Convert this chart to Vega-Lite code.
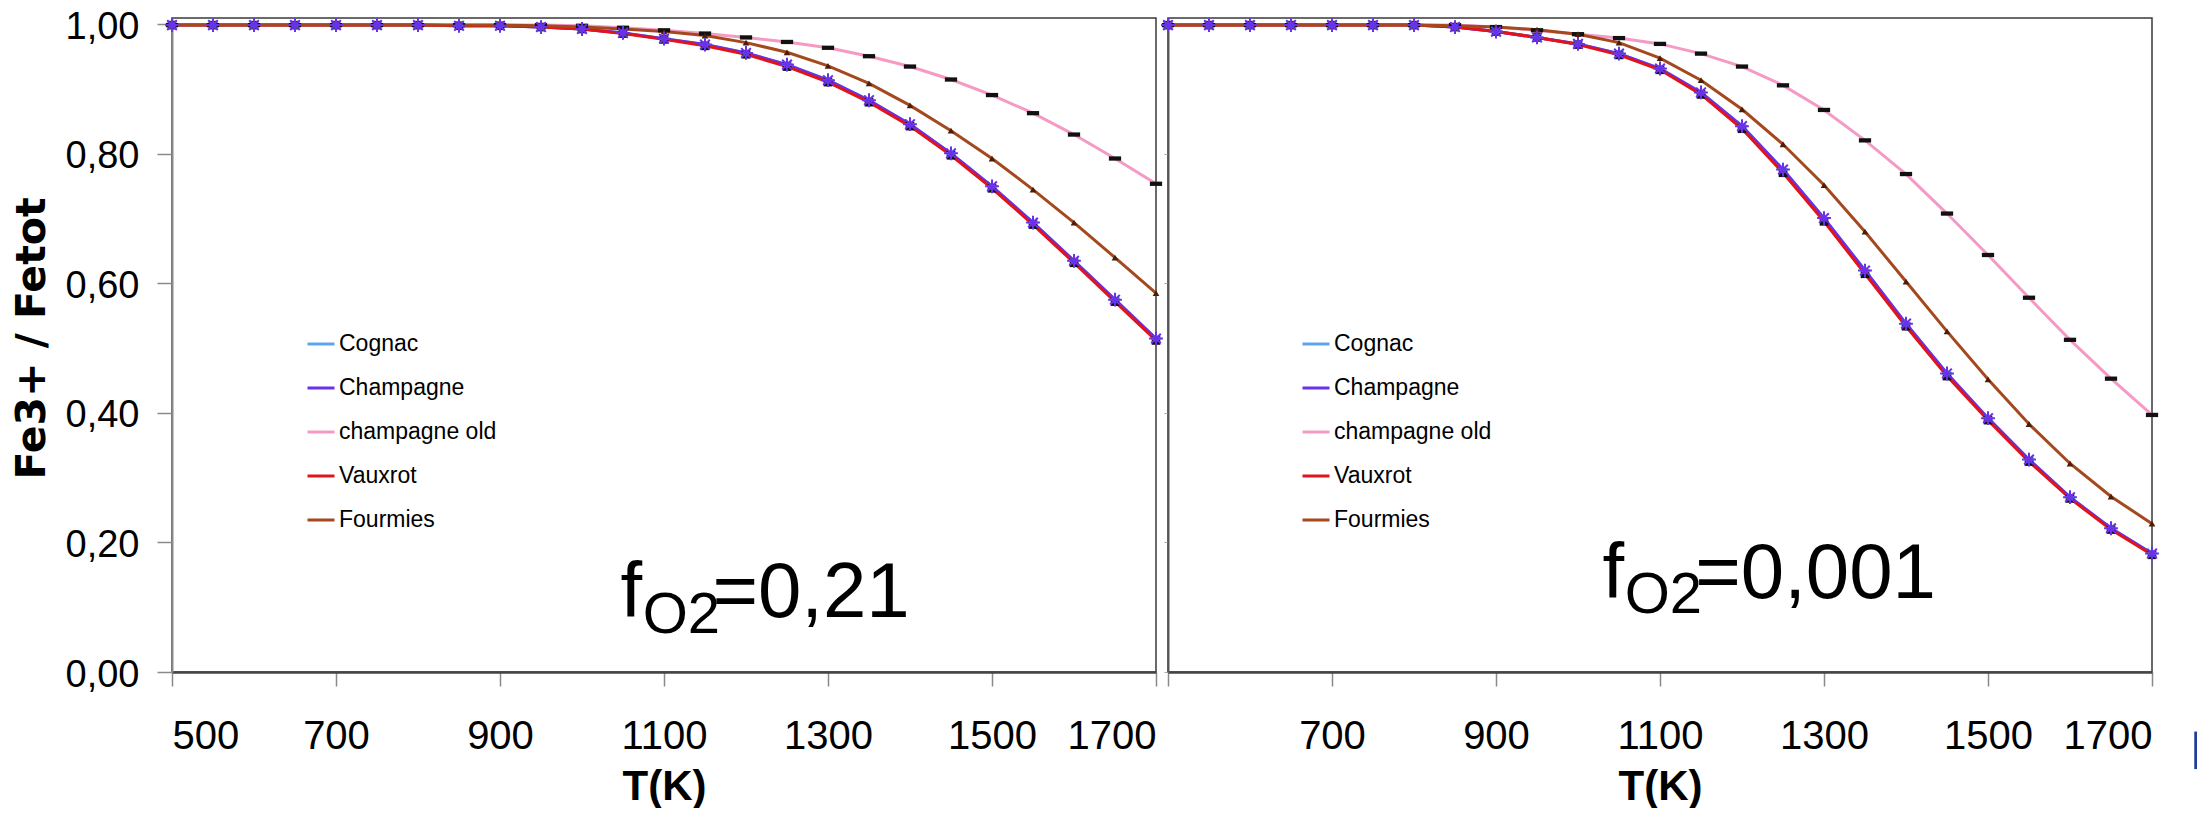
{
"$schema": "https://vega.github.io/schema/vega-lite/v6.json",
"background": "white",
"padding": {"left": 10, "top": 7, "right": 2, "bottom": 0},
"bounds": "flush",
"spacing": 12,
"datasets": {
"d": [
{"p":"a","s":"Cognac","T":500,"v":0.999},{"p":"a","s":"Cognac","T":550,"v":0.999},{"p":"a","s":"Cognac","T":600,"v":0.999},{"p":"a","s":"Cognac","T":650,"v":0.999},{"p":"a","s":"Cognac","T":700,"v":0.999},{"p":"a","s":"Cognac","T":750,"v":0.999},{"p":"a","s":"Cognac","T":800,"v":0.999},{"p":"a","s":"Cognac","T":850,"v":0.998},{"p":"a","s":"Cognac","T":900,"v":0.998},{"p":"a","s":"Cognac","T":950,"v":0.996},{"p":"a","s":"Cognac","T":1000,"v":0.993},{"p":"a","s":"Cognac","T":1050,"v":0.987},{"p":"a","s":"Cognac","T":1100,"v":0.978},{"p":"a","s":"Cognac","T":1150,"v":0.969},{"p":"a","s":"Cognac","T":1200,"v":0.956},{"p":"a","s":"Cognac","T":1250,"v":0.938},{"p":"a","s":"Cognac","T":1300,"v":0.914},{"p":"a","s":"Cognac","T":1350,"v":0.883},{"p":"a","s":"Cognac","T":1400,"v":0.846},{"p":"a","s":"Cognac","T":1450,"v":0.801},{"p":"a","s":"Cognac","T":1500,"v":0.750},{"p":"a","s":"Cognac","T":1550,"v":0.694},{"p":"a","s":"Cognac","T":1600,"v":0.635},{"p":"a","s":"Cognac","T":1650,"v":0.575},{"p":"a","s":"Cognac","T":1700,"v":0.515},
{"p":"a","s":"Champagne","T":500,"v":0.999},{"p":"a","s":"Champagne","T":550,"v":0.999},{"p":"a","s":"Champagne","T":600,"v":0.999},{"p":"a","s":"Champagne","T":650,"v":0.999},{"p":"a","s":"Champagne","T":700,"v":0.999},{"p":"a","s":"Champagne","T":750,"v":0.999},{"p":"a","s":"Champagne","T":800,"v":0.999},{"p":"a","s":"Champagne","T":850,"v":0.998},{"p":"a","s":"Champagne","T":900,"v":0.998},{"p":"a","s":"Champagne","T":950,"v":0.996},{"p":"a","s":"Champagne","T":1000,"v":0.993},{"p":"a","s":"Champagne","T":1050,"v":0.987},{"p":"a","s":"Champagne","T":1100,"v":0.978},{"p":"a","s":"Champagne","T":1150,"v":0.969},{"p":"a","s":"Champagne","T":1200,"v":0.956},{"p":"a","s":"Champagne","T":1250,"v":0.938},{"p":"a","s":"Champagne","T":1300,"v":0.914},{"p":"a","s":"Champagne","T":1350,"v":0.883},{"p":"a","s":"Champagne","T":1400,"v":0.846},{"p":"a","s":"Champagne","T":1450,"v":0.801},{"p":"a","s":"Champagne","T":1500,"v":0.750},{"p":"a","s":"Champagne","T":1550,"v":0.694},{"p":"a","s":"Champagne","T":1600,"v":0.635},{"p":"a","s":"Champagne","T":1650,"v":0.575},{"p":"a","s":"Champagne","T":1700,"v":0.515},
{"p":"a","s":"champagne old","T":500,"v":0.999},{"p":"a","s":"champagne old","T":550,"v":0.999},{"p":"a","s":"champagne old","T":600,"v":0.999},{"p":"a","s":"champagne old","T":650,"v":0.999},{"p":"a","s":"champagne old","T":700,"v":0.999},{"p":"a","s":"champagne old","T":750,"v":0.999},{"p":"a","s":"champagne old","T":800,"v":0.999},{"p":"a","s":"champagne old","T":850,"v":0.999},{"p":"a","s":"champagne old","T":900,"v":0.999},{"p":"a","s":"champagne old","T":950,"v":0.999},{"p":"a","s":"champagne old","T":1000,"v":0.998},{"p":"a","s":"champagne old","T":1050,"v":0.995},{"p":"a","s":"champagne old","T":1100,"v":0.991},{"p":"a","s":"champagne old","T":1150,"v":0.986},{"p":"a","s":"champagne old","T":1200,"v":0.980},{"p":"a","s":"champagne old","T":1250,"v":0.973},{"p":"a","s":"champagne old","T":1300,"v":0.964},{"p":"a","s":"champagne old","T":1350,"v":0.951},{"p":"a","s":"champagne old","T":1400,"v":0.935},{"p":"a","s":"champagne old","T":1450,"v":0.915},{"p":"a","s":"champagne old","T":1500,"v":0.891},{"p":"a","s":"champagne old","T":1550,"v":0.863},{"p":"a","s":"champagne old","T":1600,"v":0.830},{"p":"a","s":"champagne old","T":1650,"v":0.793},{"p":"a","s":"champagne old","T":1700,"v":0.754},
{"p":"a","s":"Vauxrot","T":500,"v":0.999},{"p":"a","s":"Vauxrot","T":550,"v":0.999},{"p":"a","s":"Vauxrot","T":600,"v":0.999},{"p":"a","s":"Vauxrot","T":650,"v":0.999},{"p":"a","s":"Vauxrot","T":700,"v":0.999},{"p":"a","s":"Vauxrot","T":750,"v":0.999},{"p":"a","s":"Vauxrot","T":800,"v":0.999},{"p":"a","s":"Vauxrot","T":850,"v":0.998},{"p":"a","s":"Vauxrot","T":900,"v":0.998},{"p":"a","s":"Vauxrot","T":950,"v":0.996},{"p":"a","s":"Vauxrot","T":1000,"v":0.993},{"p":"a","s":"Vauxrot","T":1050,"v":0.986},{"p":"a","s":"Vauxrot","T":1100,"v":0.977},{"p":"a","s":"Vauxrot","T":1150,"v":0.967},{"p":"a","s":"Vauxrot","T":1200,"v":0.954},{"p":"a","s":"Vauxrot","T":1250,"v":0.935},{"p":"a","s":"Vauxrot","T":1300,"v":0.911},{"p":"a","s":"Vauxrot","T":1350,"v":0.880},{"p":"a","s":"Vauxrot","T":1400,"v":0.843},{"p":"a","s":"Vauxrot","T":1450,"v":0.798},{"p":"a","s":"Vauxrot","T":1500,"v":0.747},{"p":"a","s":"Vauxrot","T":1550,"v":0.691},{"p":"a","s":"Vauxrot","T":1600,"v":0.632},{"p":"a","s":"Vauxrot","T":1650,"v":0.572},{"p":"a","s":"Vauxrot","T":1700,"v":0.512},
{"p":"a","s":"Fourmies","T":500,"v":0.999},{"p":"a","s":"Fourmies","T":550,"v":0.999},{"p":"a","s":"Fourmies","T":600,"v":0.999},{"p":"a","s":"Fourmies","T":650,"v":0.999},{"p":"a","s":"Fourmies","T":700,"v":0.999},{"p":"a","s":"Fourmies","T":750,"v":0.999},{"p":"a","s":"Fourmies","T":800,"v":0.999},{"p":"a","s":"Fourmies","T":850,"v":0.999},{"p":"a","s":"Fourmies","T":900,"v":0.999},{"p":"a","s":"Fourmies","T":950,"v":0.998},{"p":"a","s":"Fourmies","T":1000,"v":0.996},{"p":"a","s":"Fourmies","T":1050,"v":0.993},{"p":"a","s":"Fourmies","T":1100,"v":0.989},{"p":"a","s":"Fourmies","T":1150,"v":0.983},{"p":"a","s":"Fourmies","T":1200,"v":0.972},{"p":"a","s":"Fourmies","T":1250,"v":0.957},{"p":"a","s":"Fourmies","T":1300,"v":0.936},{"p":"a","s":"Fourmies","T":1350,"v":0.909},{"p":"a","s":"Fourmies","T":1400,"v":0.875},{"p":"a","s":"Fourmies","T":1450,"v":0.836},{"p":"a","s":"Fourmies","T":1500,"v":0.793},{"p":"a","s":"Fourmies","T":1550,"v":0.745},{"p":"a","s":"Fourmies","T":1600,"v":0.694},{"p":"a","s":"Fourmies","T":1650,"v":0.640},{"p":"a","s":"Fourmies","T":1700,"v":0.585},
{"p":"b","s":"Cognac","T":500,"v":0.999},{"p":"b","s":"Cognac","T":550,"v":0.999},{"p":"b","s":"Cognac","T":600,"v":0.999},{"p":"b","s":"Cognac","T":650,"v":0.999},{"p":"b","s":"Cognac","T":700,"v":0.999},{"p":"b","s":"Cognac","T":750,"v":0.999},{"p":"b","s":"Cognac","T":800,"v":0.999},{"p":"b","s":"Cognac","T":850,"v":0.996},{"p":"b","s":"Cognac","T":900,"v":0.989},{"p":"b","s":"Cognac","T":950,"v":0.980},{"p":"b","s":"Cognac","T":1000,"v":0.970},{"p":"b","s":"Cognac","T":1050,"v":0.955},{"p":"b","s":"Cognac","T":1100,"v":0.932},{"p":"b","s":"Cognac","T":1150,"v":0.895},{"p":"b","s":"Cognac","T":1200,"v":0.843},{"p":"b","s":"Cognac","T":1250,"v":0.776},{"p":"b","s":"Cognac","T":1300,"v":0.701},{"p":"b","s":"Cognac","T":1350,"v":0.620},{"p":"b","s":"Cognac","T":1400,"v":0.538},{"p":"b","s":"Cognac","T":1450,"v":0.461},{"p":"b","s":"Cognac","T":1500,"v":0.392},{"p":"b","s":"Cognac","T":1550,"v":0.328},{"p":"b","s":"Cognac","T":1600,"v":0.270},{"p":"b","s":"Cognac","T":1650,"v":0.222},{"p":"b","s":"Cognac","T":1700,"v":0.183},
{"p":"b","s":"Champagne","T":500,"v":0.999},{"p":"b","s":"Champagne","T":550,"v":0.999},{"p":"b","s":"Champagne","T":600,"v":0.999},{"p":"b","s":"Champagne","T":650,"v":0.999},{"p":"b","s":"Champagne","T":700,"v":0.999},{"p":"b","s":"Champagne","T":750,"v":0.999},{"p":"b","s":"Champagne","T":800,"v":0.999},{"p":"b","s":"Champagne","T":850,"v":0.996},{"p":"b","s":"Champagne","T":900,"v":0.989},{"p":"b","s":"Champagne","T":950,"v":0.980},{"p":"b","s":"Champagne","T":1000,"v":0.970},{"p":"b","s":"Champagne","T":1050,"v":0.955},{"p":"b","s":"Champagne","T":1100,"v":0.932},{"p":"b","s":"Champagne","T":1150,"v":0.895},{"p":"b","s":"Champagne","T":1200,"v":0.843},{"p":"b","s":"Champagne","T":1250,"v":0.776},{"p":"b","s":"Champagne","T":1300,"v":0.701},{"p":"b","s":"Champagne","T":1350,"v":0.620},{"p":"b","s":"Champagne","T":1400,"v":0.538},{"p":"b","s":"Champagne","T":1450,"v":0.461},{"p":"b","s":"Champagne","T":1500,"v":0.392},{"p":"b","s":"Champagne","T":1550,"v":0.328},{"p":"b","s":"Champagne","T":1600,"v":0.270},{"p":"b","s":"Champagne","T":1650,"v":0.222},{"p":"b","s":"Champagne","T":1700,"v":0.183},
{"p":"b","s":"champagne old","T":500,"v":0.999},{"p":"b","s":"champagne old","T":550,"v":0.999},{"p":"b","s":"champagne old","T":600,"v":0.999},{"p":"b","s":"champagne old","T":650,"v":0.999},{"p":"b","s":"champagne old","T":700,"v":0.999},{"p":"b","s":"champagne old","T":750,"v":0.999},{"p":"b","s":"champagne old","T":800,"v":0.999},{"p":"b","s":"champagne old","T":850,"v":0.999},{"p":"b","s":"champagne old","T":900,"v":0.996},{"p":"b","s":"champagne old","T":950,"v":0.991},{"p":"b","s":"champagne old","T":1000,"v":0.985},{"p":"b","s":"champagne old","T":1050,"v":0.979},{"p":"b","s":"champagne old","T":1100,"v":0.970},{"p":"b","s":"champagne old","T":1150,"v":0.955},{"p":"b","s":"champagne old","T":1200,"v":0.935},{"p":"b","s":"champagne old","T":1250,"v":0.906},{"p":"b","s":"champagne old","T":1300,"v":0.868},{"p":"b","s":"champagne old","T":1350,"v":0.821},{"p":"b","s":"champagne old","T":1400,"v":0.769},{"p":"b","s":"champagne old","T":1450,"v":0.708},{"p":"b","s":"champagne old","T":1500,"v":0.644},{"p":"b","s":"champagne old","T":1550,"v":0.578},{"p":"b","s":"champagne old","T":1600,"v":0.513},{"p":"b","s":"champagne old","T":1650,"v":0.453},{"p":"b","s":"champagne old","T":1700,"v":0.397},
{"p":"b","s":"Vauxrot","T":500,"v":0.999},{"p":"b","s":"Vauxrot","T":550,"v":0.999},{"p":"b","s":"Vauxrot","T":600,"v":0.999},{"p":"b","s":"Vauxrot","T":650,"v":0.999},{"p":"b","s":"Vauxrot","T":700,"v":0.999},{"p":"b","s":"Vauxrot","T":750,"v":0.999},{"p":"b","s":"Vauxrot","T":800,"v":0.999},{"p":"b","s":"Vauxrot","T":850,"v":0.996},{"p":"b","s":"Vauxrot","T":900,"v":0.989},{"p":"b","s":"Vauxrot","T":950,"v":0.980},{"p":"b","s":"Vauxrot","T":1000,"v":0.969},{"p":"b","s":"Vauxrot","T":1050,"v":0.953},{"p":"b","s":"Vauxrot","T":1100,"v":0.930},{"p":"b","s":"Vauxrot","T":1150,"v":0.892},{"p":"b","s":"Vauxrot","T":1200,"v":0.839},{"p":"b","s":"Vauxrot","T":1250,"v":0.771},{"p":"b","s":"Vauxrot","T":1300,"v":0.696},{"p":"b","s":"Vauxrot","T":1350,"v":0.615},{"p":"b","s":"Vauxrot","T":1400,"v":0.534},{"p":"b","s":"Vauxrot","T":1450,"v":0.457},{"p":"b","s":"Vauxrot","T":1500,"v":0.389},{"p":"b","s":"Vauxrot","T":1550,"v":0.325},{"p":"b","s":"Vauxrot","T":1600,"v":0.268},{"p":"b","s":"Vauxrot","T":1650,"v":0.220},{"p":"b","s":"Vauxrot","T":1700,"v":0.181},
{"p":"b","s":"Fourmies","T":500,"v":0.999},{"p":"b","s":"Fourmies","T":550,"v":0.999},{"p":"b","s":"Fourmies","T":600,"v":0.999},{"p":"b","s":"Fourmies","T":650,"v":0.999},{"p":"b","s":"Fourmies","T":700,"v":0.999},{"p":"b","s":"Fourmies","T":750,"v":0.999},{"p":"b","s":"Fourmies","T":800,"v":0.999},{"p":"b","s":"Fourmies","T":850,"v":0.998},{"p":"b","s":"Fourmies","T":900,"v":0.996},{"p":"b","s":"Fourmies","T":950,"v":0.992},{"p":"b","s":"Fourmies","T":1000,"v":0.985},{"p":"b","s":"Fourmies","T":1050,"v":0.972},{"p":"b","s":"Fourmies","T":1100,"v":0.948},{"p":"b","s":"Fourmies","T":1150,"v":0.914},{"p":"b","s":"Fourmies","T":1200,"v":0.869},{"p":"b","s":"Fourmies","T":1250,"v":0.815},{"p":"b","s":"Fourmies","T":1300,"v":0.752},{"p":"b","s":"Fourmies","T":1350,"v":0.680},{"p":"b","s":"Fourmies","T":1400,"v":0.603},{"p":"b","s":"Fourmies","T":1450,"v":0.526},{"p":"b","s":"Fourmies","T":1500,"v":0.452},{"p":"b","s":"Fourmies","T":1550,"v":0.383},{"p":"b","s":"Fourmies","T":1600,"v":0.322},{"p":"b","s":"Fourmies","T":1650,"v":0.271},{"p":"b","s":"Fourmies","T":1700,"v":0.229}
]
},
"config": {
"view": {"stroke": "#3a3a3a", "strokeWidth": 1.5},
"axis": {"grid": false, "labelColor": "#000", "titleColor": "#000"}
},
"resolve": {
"scale": {"x": "independent", "y": "independent", "color": "independent", "strokeWidth": "independent"},
"legend": {"color": "independent"}
},
"hconcat": [
{
"width": 984, "height": 654,
"layer": [
{
"data": {"name": "d"},
"transform": [{"filter": "datum.p == 'a'"}],
"mark": {"type": "line"},
"encoding": {
"x": {"field": "T", "type": "quantitative", "scale": {"domain": [500, 1700], "nice": false, "zero": false},
 "axis": {"values": [500, 700, 900, 1100, 1300, 1500, 1700], "format": "d", "labelFont": "Liberation Sans", "labelFontSize": 40, "labelPadding": 30, "tickSize": 14, "tickColor": "#8a8a8a", "tickWidth": 1.5, "domainColor": "#454545", "domainWidth": 2.5, "title": "T(K)", "titleFont": "Liberation Sans", "titleFontWeight": "bold", "titleFontSize": 42, "titlePadding": 10}},
"y": {"field": "v", "type": "quantitative", "scale": {"domain": [0, 1.01], "nice": false, "zero": true},
 "axis": {"values": [0, 0.2, 0.4, 0.6, 0.8, 1.0], "labelExpr": "replace(format(datum.value, '.2f'), '.', ',')", "labelFont": "Liberation Sans", "labelFontSize": 38, "labelPadding": 18, "labelOffset": 3, "tickSize": 15, "tickColor": "#8a8a8a", "tickWidth": 1.5, "domainColor": "#8a8a8a", "domainWidth": 2, "title": "Fe3+ / Fetot", "titleFont": "DejaVu Sans", "titleFontWeight": "bold", "titleFontSize": 41, "titleAngle": 270, "titleBaseline": "bottom", "titleAlign": "center", "titleX": -119, "titleY": 320}},
"color": {"field": "s", "type": "nominal", "scale": {"domain": ["Cognac", "Champagne", "champagne old", "Vauxrot", "Fourmies"], "range": ["#5ea6ec", "#6a30ea", "#f49ac4", "#e0141a", "#a4491e"]},
 "legend": {"title": null, "orient": "none", "legendX": 134, "legendY": 311, "padding": 0, "labelFont": "Liberation Sans", "labelFontSize": 23, "labelColor": "#000", "labelLimit": 400, "rowPadding": 17, "symbolType": "stroke", "symbolSize": 729, "symbolStrokeWidth": 3.5, "labelOffset": 3}},
"strokeWidth": {"field": "s", "type": "nominal", "scale": {"domain": ["Cognac", "Champagne", "champagne old", "Vauxrot", "Fourmies"], "range": [3, 3, 4, 4.5, 3]}, "legend": null}
}
},
{
"data": {"name": "d"},
"transform": [{"filter": "datum.p == 'a' && datum.s == 'champagne old'"}],
"mark": {"type": "point", "filled": true, "opacity": 1, "color": "#111111", "size": 150, "shape": "M-1,-0.35H1V0.35H-1Z"},
"encoding": {"x": {"field": "T", "type": "quantitative"}, "y": {"field": "v", "type": "quantitative"}}
},
{
"data": {"name": "d"},
"transform": [{"filter": "datum.p == 'a' && datum.s == 'Vauxrot'"}],
"mark": {"type": "point", "filled": true, "opacity": 1, "color": "#111111", "size": 75, "shape": "square"},
"encoding": {"x": {"field": "T", "type": "quantitative"}, "y": {"field": "v", "type": "quantitative"}}
},
{
"data": {"name": "d"},
"transform": [{"filter": "datum.p == 'a' && datum.s == 'Fourmies'"}],
"mark": {"type": "point", "filled": true, "opacity": 1, "color": "#4a1e08", "size": 45, "shape": "triangle-up"},
"encoding": {"x": {"field": "T", "type": "quantitative"}, "y": {"field": "v", "type": "quantitative"}}
},
{
"data": {"name": "d"},
"transform": [{"filter": "datum.p == 'a' && datum.s == 'Cognac'"}],
"mark": {"type": "point", "filled": true, "opacity": 1, "color": "#5ea6ec", "size": 210, "shape": "M0,-1L0.25,-0.25L1,0L0.25,0.25L0,1L-0.25,0.25L-1,0L-0.25,-0.25Z"},
"encoding": {"x": {"field": "T", "type": "quantitative"}, "y": {"field": "v", "type": "quantitative"}}
},
{
"data": {"name": "d"},
"transform": [{"filter": "datum.p == 'a' && datum.s == 'Champagne'"}],
"mark": {"type": "point", "filled": false, "opacity": 1, "color": "#6a30ea", "strokeWidth": 2, "size": 190, "shape": "M-1,0L1,0M0,-1L0,1M-0.7,-0.7L0.7,0.7M-0.7,0.7L0.7,-0.7"},
"encoding": {"x": {"field": "T", "type": "quantitative"}, "y": {"field": "v", "type": "quantitative"}}
},
{
"data": {"values": [{"T": 1047, "v": 0.0856, "t": "f"}, {"T": 1159, "v": 0.0856, "t": "=0,21"}]},
"mark": {"type": "text", "align": "left", "baseline": "alphabetic", "font": "Liberation Sans", "fontSize": 78, "color": "#000"},
"encoding": {"x": {"field": "T", "type": "quantitative"}, "y": {"field": "v", "type": "quantitative"}, "text": {"field": "t"}}
},
{
"data": {"values": [{"T": 1074, "v": 0.0597, "t": "O2"}]},
"mark": {"type": "text", "align": "left", "baseline": "alphabetic", "font": "Liberation Sans", "fontSize": 58, "color": "#000"},
"encoding": {"x": {"field": "T", "type": "quantitative"}, "y": {"field": "v", "type": "quantitative"}, "text": {"field": "t"}}
}
]
},
{
"width": 984, "height": 654,
"layer": [
{
"data": {"name": "d"},
"transform": [{"filter": "datum.p == 'b'"}],
"mark": {"type": "line"},
"encoding": {
"x": {"field": "T", "type": "quantitative", "scale": {"domain": [500, 1700], "nice": false, "zero": false},
 "axis": {"values": [500, 700, 900, 1100, 1300, 1500, 1700], "format": "d", "labelExpr": "datum.value == 500 ? '' : datum.label", "labelFont": "Liberation Sans", "labelFontSize": 40, "labelPadding": 30, "tickSize": 14, "tickColor": "#8a8a8a", "tickWidth": 1.5, "domainColor": "#454545", "domainWidth": 2.5, "title": "T(K)", "titleFont": "Liberation Sans", "titleFontWeight": "bold", "titleFontSize": 42, "titlePadding": 10}},
"y": {"field": "v", "type": "quantitative", "scale": {"domain": [0, 1.01], "nice": false, "zero": true},
 "axis": {"values": [0, 0.2, 0.4, 0.6, 0.8, 1.0], "labels": false, "tickSize": 4, "tickColor": "#aaaaaa", "tickWidth": 1, "domainColor": "#555555", "domainWidth": 2, "title": null}},
"color": {"field": "s", "type": "nominal", "scale": {"domain": ["Cognac", "Champagne", "champagne old", "Vauxrot", "Fourmies"], "range": ["#5ea6ec", "#6a30ea", "#f49ac4", "#e0141a", "#a4491e"]},
 "legend": {"title": null, "orient": "none", "legendX": 133, "legendY": 311, "padding": 0, "labelFont": "Liberation Sans", "labelFontSize": 23, "labelColor": "#000", "labelLimit": 400, "rowPadding": 17, "symbolType": "stroke", "symbolSize": 729, "symbolStrokeWidth": 3.5, "labelOffset": 3}},
"strokeWidth": {"field": "s", "type": "nominal", "scale": {"domain": ["Cognac", "Champagne", "champagne old", "Vauxrot", "Fourmies"], "range": [3, 3, 4, 4.5, 3]}, "legend": null}
}
},
{
"data": {"name": "d"},
"transform": [{"filter": "datum.p == 'b' && datum.s == 'champagne old'"}],
"mark": {"type": "point", "filled": true, "opacity": 1, "color": "#111111", "size": 150, "shape": "M-1,-0.35H1V0.35H-1Z"},
"encoding": {"x": {"field": "T", "type": "quantitative"}, "y": {"field": "v", "type": "quantitative"}}
},
{
"data": {"name": "d"},
"transform": [{"filter": "datum.p == 'b' && datum.s == 'Vauxrot'"}],
"mark": {"type": "point", "filled": true, "opacity": 1, "color": "#111111", "size": 75, "shape": "square"},
"encoding": {"x": {"field": "T", "type": "quantitative"}, "y": {"field": "v", "type": "quantitative"}}
},
{
"data": {"name": "d"},
"transform": [{"filter": "datum.p == 'b' && datum.s == 'Fourmies'"}],
"mark": {"type": "point", "filled": true, "opacity": 1, "color": "#4a1e08", "size": 45, "shape": "triangle-up"},
"encoding": {"x": {"field": "T", "type": "quantitative"}, "y": {"field": "v", "type": "quantitative"}}
},
{
"data": {"name": "d"},
"transform": [{"filter": "datum.p == 'b' && datum.s == 'Cognac'"}],
"mark": {"type": "point", "filled": true, "opacity": 1, "color": "#5ea6ec", "size": 210, "shape": "M0,-1L0.25,-0.25L1,0L0.25,0.25L0,1L-0.25,0.25L-1,0L-0.25,-0.25Z"},
"encoding": {"x": {"field": "T", "type": "quantitative"}, "y": {"field": "v", "type": "quantitative"}}
},
{
"data": {"name": "d"},
"transform": [{"filter": "datum.p == 'b' && datum.s == 'Champagne'"}],
"mark": {"type": "point", "filled": false, "opacity": 1, "color": "#6a30ea", "strokeWidth": 2, "size": 190, "shape": "M-1,0L1,0M0,-1L0,1M-0.7,-0.7L0.7,0.7M-0.7,0.7L0.7,-0.7"},
"encoding": {"x": {"field": "T", "type": "quantitative"}, "y": {"field": "v", "type": "quantitative"}}
},
{
"data": {"values": [{"T": 1030, "v": 0.1138, "t": "f"}, {"T": 1143, "v": 0.1138, "t": "=0,001"}]},
"mark": {"type": "text", "align": "left", "baseline": "alphabetic", "font": "Liberation Sans", "fontSize": 78, "color": "#000"},
"encoding": {"x": {"field": "T", "type": "quantitative"}, "y": {"field": "v", "type": "quantitative"}, "text": {"field": "t"}}
},
{
"data": {"values": [{"T": 1057, "v": 0.0904, "t": "O2"}]},
"mark": {"type": "text", "align": "left", "baseline": "alphabetic", "font": "Liberation Sans", "fontSize": 58, "color": "#000"},
"encoding": {"x": {"field": "T", "type": "quantitative"}, "y": {"field": "v", "type": "quantitative"}, "text": {"field": "t"}}
},
{
"data": {"values": [{"T": 1754, "v1": -0.092, "v2": -0.15}]},
"mark": {"type": "rule", "color": "#1f3c96", "strokeWidth": 4, "clip": false},
"encoding": {"x": {"field": "T", "type": "quantitative"}, "y": {"field": "v1", "type": "quantitative"}, "y2": {"field": "v2"}}
}
]
}
]
}
